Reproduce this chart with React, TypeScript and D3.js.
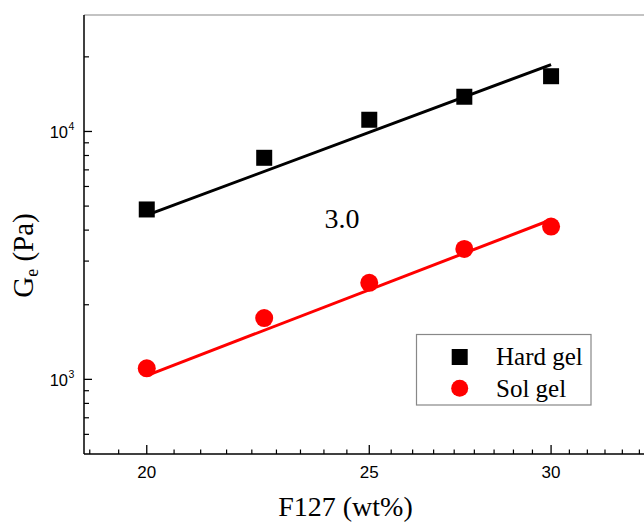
import React from 'react';
import * as d3 from 'd3';

// F127 concentration (wt%)
const concentrations = [20, 22.5, 25, 27.5, 30];
// elastic modulus Ge (Pa)
const hardGel = [4846, 7831, 11150, 13806, 16707];
const solGel = [1108, 1768, 2451, 3360, 4134];
// fitted power-law lines, end points [wt%, Pa]
const hardFit = [[20, 4597], [30, 18600]];
const solFit = [[20, 1036], [30, 4405]];
const xTickLabels = [20, 25, 30];
const yTickLabels = [1000, 10000];
const slopeLabel = '3.0';
const seriesNames = ['Hard gel', 'Sol gel'];

const W = 644;
const H = 523;
const left = 84, top = 15, bottom = 454, right = 644;

const App = () => {
  const x = d3.scaleLog().domain([18.78, 32.93]).range([left, right]);
  const y = d3.scaleLog().domain([500, 29500]).range([bottom, top]);

  // Origin style minor ticks: 8 between majors, linear in value
  const xMinor: number[] = [];
  const step = 5 / 9;
  for (let v = 20 - 2 * step; v < 32.93; v += step) {
    if (v > 18.78 && !xTickLabels.some(t => Math.abs(t - v) < 1e-6)) xMinor.push(v);
  }
  const yMinor = y.ticks().filter(v => !yTickLabels.includes(v) && v > 500);

  const line = d3.line<number[]>().x(d => x(d[0])).y(d => y(d[1]));

  const sans = 'Liberation Sans, Arial, sans-serif';
  const serif = 'Liberation Serif, Times New Roman, serif';

  return (
    <svg width={W} height={H} style={{ position: 'absolute', left: 0, top: 0, background: '#fff' }}>
      {/* frame */}
      <line x1={left} x2={right} y1={top} y2={top} stroke="#888" strokeWidth={1.2} />
      <line x1={left} x2={left} y1={top} y2={bottom} stroke="#000" strokeWidth={1.5} />
      <line x1={left} x2={right} y1={bottom} y2={bottom} stroke="#000" strokeWidth={1.5} />

      {/* x ticks */}
      {xTickLabels.map(t => (
        <g key={t}>
          <line x1={x(t)} x2={x(t)} y1={bottom} y2={bottom - 9} stroke="#000" strokeWidth={1.3} />
          <text x={x(t)} y={478} textAnchor="middle" fontFamily={sans} fontSize={17}>{t}</text>
        </g>
      ))}
      {xMinor.map((t, i) => (
        <line key={i} x1={x(t)} x2={x(t)} y1={bottom} y2={bottom - 4.5} stroke="#000" strokeWidth={1.2} />
      ))}

      {/* y ticks */}
      {yTickLabels.map(t => (
        <g key={t}>
          <line x1={left} x2={left + 8} y1={y(t)} y2={y(t)} stroke="#000" strokeWidth={1.3} />
          <text x={68} y={y(t) + 7} textAnchor="end" fontFamily={sans} fontSize={16.5}>10</text>
          <text x={68.5} y={y(t) - 1} textAnchor="start" fontFamily={sans} fontSize={10.5}>{Math.round(Math.log10(t))}</text>
        </g>
      ))}
      {yMinor.map((t, i) => (
        <line key={i} x1={left} x2={left + 5} y1={y(t)} y2={y(t)} stroke="#000" strokeWidth={1.2} />
      ))}

      {/* fit lines */}
      <path d={line(hardFit) || ''} fill="none" stroke="#000" strokeWidth={3} />
      <path d={line(solFit) || ''} fill="none" stroke="#ff0000" strokeWidth={3} />

      {/* markers */}
      {concentrations.map((c, i) => (
        <rect key={'h' + i} x={x(c) - 8} y={y(hardGel[i]) - 8} width={16} height={16} fill="#000" />
      ))}
      {concentrations.map((c, i) => (
        <circle key={'s' + i} cx={x(c)} cy={y(solGel[i])} r={9} fill="#ff0000" />
      ))}

      <text x={342} y={228} textAnchor="middle" fontFamily={serif} fontSize={28}>{slopeLabel}</text>

      {/* legend */}
      <rect x={416.5} y={334.5} width={174.5} height={70.5} fill="#fff" stroke="#888" strokeWidth={1.2} />
      <rect x={451.7} y={349} width={16} height={16} fill="#000" />
      <circle cx={459.7} cy={388.3} r={8.5} fill="#ff0000" />
      <text x={496} y={365} fontFamily={serif} fontSize={25}>{seriesNames[0]}</text>
      <text x={496} y={397} fontFamily={serif} fontSize={25}>{seriesNames[1]}</text>

      {/* axis titles */}
      <text x={345.5} y={516} textAnchor="middle" fontFamily={serif} fontSize={28}>F127 (wt%)</text>
      <text transform="translate(33,255.5) rotate(-90)" textAnchor="middle" fontFamily={serif} fontSize={29}>
        G<tspan fontSize={18} dy={5}>e</tspan><tspan dy={-5}> (Pa)</tspan>
      </text>
    </svg>
  );
};

export default App;
